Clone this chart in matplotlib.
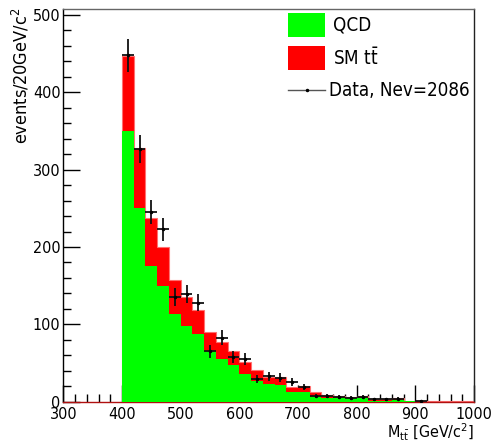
import matplotlib
matplotlib.use("Agg")
import matplotlib.pyplot as plt
import numpy as np
from matplotlib.patches import Rectangle
from matplotlib.lines import Line2D

plt.rcParams['font.family'] = ['DejaVu Sans Condensed', 'DejaVu Sans']
plt.rcParams['font.stretch'] = 'condensed'
plt.rcParams['mathtext.fontset'] = 'dejavusans'

# bin edges 400..1000 GeV, 20 GeV bins
bin_edges = list(range(400, 1001, 20))
qcd = [350, 251, 175, 149, 113, 98, 87, 65, 55, 47.5, 36, 27, 22.5, 22, 12.5, 12.5,
       6.7, 5.4, 5.2, 4.4, 4.8, 1.3, 1.5, 2.6, 0.3, 0, 0, 0, 0, 0]
total = [447, 328, 237, 200, 157, 136, 118.6, 89.7, 77.6, 66, 51, 40.6, 32.3, 32, 18.6, 20.3,
         12.2, 8.9, 7.4, 6.5, 7.4, 3.1, 3.1, 4.8, 1.3, 1.0, 0.5, 0.5, 0.5, 0.5]
data = [448, 327, 245, 223, 136, 139, 128, 65, 83, 58, 55, 29, 33, 31, 25, 19,
        7, 7, 6, 5, 6, 3, 3, 4, 0, 1, 0, 0, 0, 0]

W, H = 498, 446
fig = plt.figure(figsize=(W / 100, H / 100), dpi=100)
ax = fig.add_axes([63.3 / W, 1 - 401.7 / H, (474 - 63.3) / W, (401.7 - 9) / H])

edges = np.array(bin_edges)
ax.stairs(total, edges, fill=True, color='#ff0000', edgecolor='none', zorder=2)
ax.stairs(total, edges, fill=False, color='#ff7070', lw=0.8, zorder=2)
ax.stairs(qcd, edges, fill=True, color='#00ff00', edgecolor='none', zorder=3)

centers = (edges[:-1] + edges[1:]) / 2
d = np.array(data, dtype=float)
m = d > 0
ax.errorbar(centers[m], d[m], yerr=np.sqrt(d[m]), xerr=10, fmt='o', ms=1.5,
            color='black', ecolor='#111111', elinewidth=1.3, capsize=0, zorder=5)

ax.set_xlim(300, 1000)
ax.set_ylim(0, 507.8)
ax.set_xticks(range(300, 1001, 100))
ax.set_xticks(range(300, 1001, 20), minor=True)
ax.set_yticks(range(0, 501, 100))
ax.set_yticks(range(0, 501, 20), minor=True)
ax.tick_params(which='both', direction='in', top=False, right=False, labelsize=11.5, color='black')
ax.tick_params(which='major', length=12, width=1)
ax.tick_params(which='minor', length=6, width=1)
ax.tick_params(axis='y', pad=2)
ax.tick_params(axis='x', pad=4)

ax.spines['top'].set_color('#666666')
ax.spines['right'].set_color('#222222')
ax.spines['left'].set_color('black')
ax.spines['bottom'].set_color('#b01010')
for s in ax.spines.values():
    s.set_linewidth(1.0)

fig.text(474 / W, 1 - 432 / H, r'M$_{\mathrm{t\bar{t}}}$ [GeV/c$^{2}$]', ha='right', va='center', fontsize=11.5)
fig.text(21 / W, 1 - 8 / H, r'events/20GeV/c$^{2}$', rotation=90, ha='center', va='top', fontsize=13)

# legend (frameless, drawn in figure pixels)
def fx(px):
    return px / W

def fy(py):
    return 1 - py / H

fig.patches.append(Rectangle((fx(288), fy(37)), fx(325) - fx(288), fy(13) - fy(37),
                             transform=fig.transFigure, facecolor='#00ff00', edgecolor='none'))
fig.patches.append(Rectangle((fx(288), fy(70)), fx(325) - fx(288), fy(46) - fy(70),
                             transform=fig.transFigure, facecolor='#ff0000', edgecolor='none'))
fig.lines.append(Line2D([fx(288), fx(325)], [fy(90), fy(90)], transform=fig.transFigure,
                        color='#555555', lw=1))
fig.lines.append(Line2D([fx(306.5)], [fy(90)], transform=fig.transFigure, marker='o', ms=1.5,
                        color='black'))
fig.text(fx(333), fy(25), 'QCD', ha='left', va='center', fontsize=13.5)
fig.text(fx(333), fy(58), r'SM $\mathrm{t\bar{t}}$', ha='left', va='center', fontsize=13.5)
fig.text(fx(329), fy(90), 'Data, Nev=2086', ha='left', va='center', fontsize=13.5)

fig.savefig('out.png', dpi=100)
